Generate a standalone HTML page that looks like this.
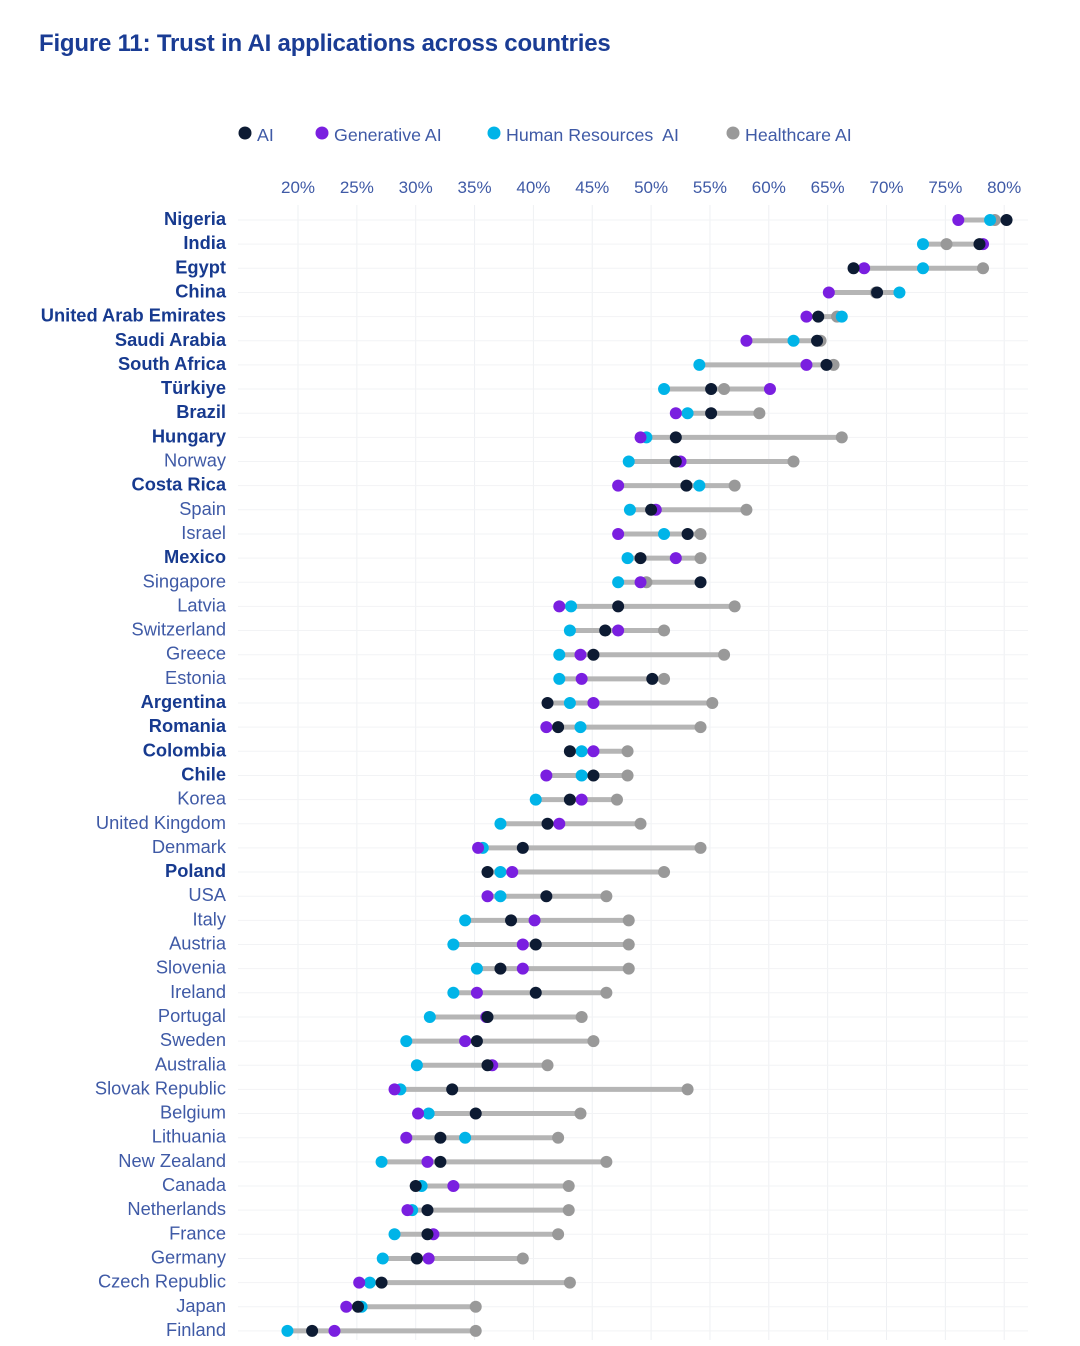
<!DOCTYPE html>
<html><head><meta charset="utf-8">
<style>
html,body{margin:0;padding:0;background:#fff;}
body{width:1080px;height:1346px;overflow:hidden;font-family:"Liberation Sans",sans-serif;}
#title{position:absolute;left:39px;top:30px;font-size:24px;font-weight:bold;color:#1a3c94;letter-spacing:-0.2px;}
svg{position:absolute;left:0;top:0;}
</style></head>
<body>
<div id="title">Figure 11: Trust in AI applications across countries</div>
<svg id="chart" width="1080" height="1346"></svg>
<script>
const countries=["Nigeria","India","Egypt","China","United Arab Emirates","Saudi Arabia","South Africa","Türkiye","Brazil","Hungary","Norway","Costa Rica","Spain","Israel","Mexico","Singapore","Latvia","Switzerland","Greece","Estonia","Argentina","Romania","Colombia","Chile","Korea","United Kingdom","Denmark","Poland","USA","Italy","Austria","Slovenia","Ireland","Portugal","Sweden","Australia","Slovak Republic","Belgium","Lithuania","New Zealand","Canada","Netherlands","France","Germany","Czech Republic","Japan","Finland"];
const boldCountries=["Nigeria","India","Egypt","China","United Arab Emirates","Saudi Arabia","South Africa","Türkiye","Brazil","Hungary","Costa Rica","Mexico","Argentina","Romania","Colombia","Chile","Poland"];
const aiVals=[80.2,77.9,67.2,69.2,64.2,64.1,64.9,55.1,55.1,52.1,52.1,53.0,50.0,53.1,49.1,54.2,47.2,46.1,45.1,50.1,41.2,42.1,43.1,45.1,43.1,41.2,39.1,36.1,41.1,38.1,40.2,37.2,40.2,36.1,35.2,36.1,33.1,35.1,32.1,32.1,30.0,31.0,31.0,30.1,27.1,25.1,21.2];
const genVals=[76.1,78.2,68.1,65.1,63.2,58.1,63.2,60.1,52.1,49.1,52.5,47.2,50.4,47.2,52.1,49.1,42.2,47.2,44.0,44.1,45.1,41.1,45.1,41.1,44.1,42.2,35.3,38.2,36.1,40.1,39.1,39.1,35.2,36.0,34.2,36.5,28.2,30.2,29.2,31.0,33.2,29.3,31.5,31.1,25.2,24.1,23.1];
const hrVals=[78.8,73.1,73.1,71.1,66.2,62.1,54.1,51.1,53.1,49.6,48.1,54.1,48.2,51.1,48.0,47.2,43.2,43.1,42.2,42.2,43.1,44.0,44.1,44.1,40.2,37.2,35.7,37.2,37.2,34.2,33.2,35.2,33.2,31.2,29.2,30.1,28.7,31.1,34.2,27.1,30.5,29.7,28.2,27.2,26.1,25.4,19.1];
const hcVals=[79.2,75.1,78.2,69.1,65.8,64.4,65.5,56.2,59.2,66.2,62.1,57.1,58.1,54.2,54.2,49.6,57.1,51.1,56.2,51.1,55.2,54.2,48.0,48.0,47.1,49.1,54.2,51.1,46.2,48.1,48.1,48.1,46.2,44.1,45.1,41.2,53.1,44.0,42.1,46.2,43.0,43.0,42.1,39.1,43.1,35.1,35.1];
const tickVals=[20,25,30,35,40,45,50,55,60,65,70,75,80];
const tickLabels=["20%","25%","30%","35%","40%","45%","50%","55%","60%","65%","70%","75%","80%"];

const svg=document.getElementById('chart');
const NS="http://www.w3.org/2000/svg";
const x=v=>298+(v-20)*11.77;
const y=i=>220+i*24.15;
function mk(tag,attrs,parent){const e=document.createElementNS(NS,tag);for(const k in attrs)e.setAttribute(k,attrs[k]);(parent||svg).appendChild(e);return e;}

const legendItems=[["AI","#0d1b33",245],["Generative AI","#7a1fe0",322],["Human Resources  AI","#00b4e8",494],["Healthcare AI","#999999",733]];
legendItems.forEach(([t,c,lx])=>{
  const g=mk('g',{});
  
  
  mk('circle',{cx:lx,cy:133,r:6.5,fill:c},g);
  const tx=mk('text',{x:lx+12,y:141,'font-size':17.8,fill:'#3f5aa6','font-family':'Liberation Sans, sans-serif'},g);
  tx.textContent=t.replace('  ','\u00a0 ');
});

tickVals.forEach((v,k)=>{
  const l=mk('line',{x1:x(v),x2:x(v),y1:205,y2:1340,stroke:'#eef0f3','stroke-width':1});
  
  
  const t=mk('text',{x:x(v),y:193,'text-anchor':'middle','font-size':17,fill:'#3f5aa6','font-family':'Liberation Sans, sans-serif'});
  
  
  t.textContent=tickLabels[k];
});
countries.forEach((c,i)=>{
  const l=mk('line',{x1:238,x2:1028,y1:y(i),y2:y(i),stroke:'#f2f3f5','stroke-width':1});
  
  
});

countries.forEach((c,i)=>{
  const b=boldCountries.includes(c);
  const t=mk('text',{x:226,y:y(i)+5,'text-anchor':'end','font-size':18.3,fill:b?'#173a8f':'#3f5aa6','font-weight':b?'bold':'normal','font-family':'Liberation Sans, sans-serif'});
  
  
  t.textContent=c;
  const vals=[aiVals[i],genVals[i],hrVals[i],hcVals[i]];
  const mn=Math.min(...vals),mx=Math.max(...vals);
  const bar=mk('line',{x1:x(mn),x2:x(mx),y1:y(i),y2:y(i),stroke:'#b5b5b5','stroke-width':5});
  
  
  const series=[[hcVals[i],'#999999','healthcare-ai-dot'],[hrVals[i],'#00b4e8','hr-ai-dot'],[genVals[i],'#7a1fe0','generative-ai-dot'],[aiVals[i],'#0d1b33','ai-dot']];
  series.forEach(([v,col,nm])=>{
    const d=mk('circle',{cx:x(v),cy:y(i),r:6,fill:col});
    
    
  });
});
</script>
</body></html>
